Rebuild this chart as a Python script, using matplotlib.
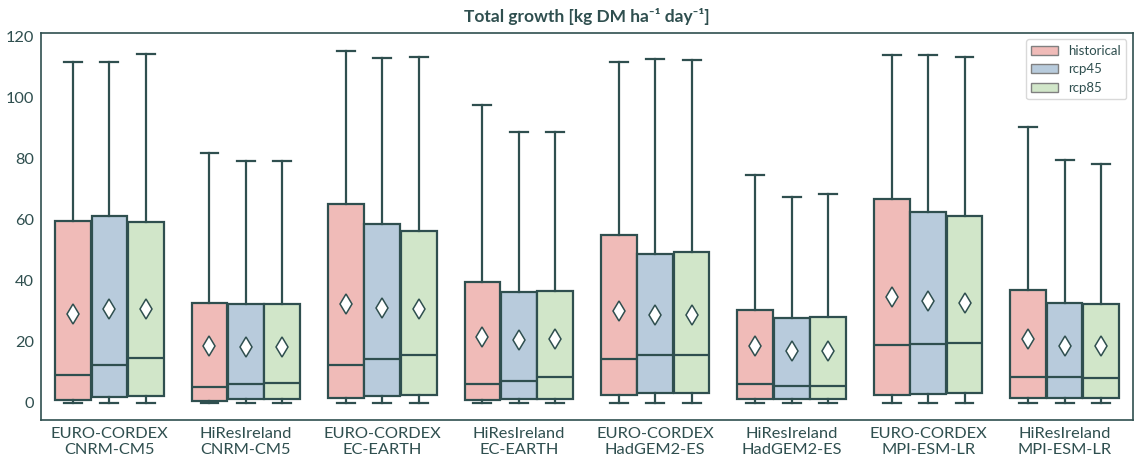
import matplotlib
matplotlib.use("Agg")
import matplotlib.pyplot as plt
from matplotlib.patches import Patch

plt.rcParams['font.family'] = ['Lato', 'DejaVu Sans']

groups = ["EURO-CORDEX\nCNRM-CM5", "HiResIreland\nCNRM-CM5", "EURO-CORDEX\nEC-EARTH",
          "HiResIreland\nEC-EARTH", "EURO-CORDEX\nHadGEM2-ES", "HiResIreland\nHadGEM2-ES",
          "EURO-CORDEX\nMPI-ESM-LR", "HiResIreland\nMPI-ESM-LR"]
scenarios = ["historical", "rcp45", "rcp85"]
colors = ["#f0bbb8", "#b8cbdc", "#d1e6c9"]

# per scenario: lists over groups
whislo = {
    "historical": [0, 0, 0, 0, 0, 0, 0, 0],
    "rcp45":      [0, 0, 0, 0, 0, 0, 0, 0],
    "rcp85":      [0, 0, 0, 0, 0, 0, 0, 0],
}
q1 = {
    "historical": [0.9, 0.5, 1.5, 0.9, 2.5, 1.1, 2.5, 1.4],
    "rcp45":      [1.7, 1.0, 2.2, 1.2, 3.2, 1.1, 2.8, 1.4],
    "rcp85":      [2.0, 1.3, 2.4, 1.2, 3.2, 1.1, 3.2, 1.4],
}
med = {
    "historical": [9.0, 5.0, 12.4, 6.1, 14.2, 6.0, 18.9, 8.3],
    "rcp45":      [12.3, 6.0, 14.2, 7.0, 15.6, 5.3, 19.2, 8.3],
    "rcp85":      [14.7, 6.3, 15.6, 8.3, 15.6, 5.3, 19.5, 8.0],
}
q3 = {
    "historical": [59.5, 32.8, 65.1, 39.5, 55.0, 30.3, 66.8, 36.9],
    "rcp45":      [61.2, 32.3, 58.6, 36.2, 48.7, 27.8, 62.4, 32.6],
    "rcp85":      [59.1, 32.3, 56.3, 36.6, 49.4, 28.0, 61.2, 32.2],
}
whishi = {
    "historical": [111.8, 81.9, 115.4, 97.7, 111.8, 74.7, 113.9, 90.4],
    "rcp45":      [111.8, 79.4, 113.2, 88.9, 112.8, 67.5, 114.1, 79.7],
    "rcp85":      [114.4, 79.4, 113.5, 88.9, 112.5, 68.4, 113.5, 78.3],
}
means = {
    "historical": [28.9, 18.4, 32.2, 21.4, 29.9, 18.5, 34.5, 20.7],
    "rcp45":      [30.6, 18.3, 30.9, 20.4, 28.7, 16.8, 33.2, 18.6],
    "rcp85":      [30.8, 18.2, 30.6, 20.7, 28.7, 16.8, 32.5, 18.6],
}

dark = "#2f4f4f"
fig = plt.figure(figsize=(11.42, 4.70), dpi=100)
ax = fig.add_axes([0.036, 0.106, 0.956, 0.824])

hue_w = 0.8 / len(scenarios)
for j, sc in enumerate(scenarios):
    stats = []
    for i in range(len(groups)):
        stats.append(dict(whislo=whislo[sc][i], q1=q1[sc][i], med=med[sc][i],
                          q3=q3[sc][i], whishi=whishi[sc][i], mean=means[sc][i], fliers=[]))
    pos = [i + (j - 1) * hue_w for i in range(len(groups))]
    ax.bxp(stats, positions=pos, widths=hue_w * 0.98, patch_artist=True,
           showmeans=True, showfliers=False, manage_ticks=False,
           boxprops=dict(facecolor=colors[j], edgecolor=dark, linewidth=1.6),
           whiskerprops=dict(color=dark, linewidth=1.6),
           capprops=dict(color=dark, linewidth=1.6),
           medianprops=dict(color=dark, linewidth=1.6),
           meanprops=dict(marker="d", markerfacecolor="white", markeredgecolor=dark,
                          markersize=10, markeredgewidth=1.1))

ax.set_xlim(-0.5, len(groups) - 0.5)
ax.set_ylim(-5.8, 121.3)
ax.set_xticks(range(len(groups)))
ax.set_xticklabels(groups, fontsize=11.8, color=dark)
ax.set_yticks([0, 20, 40, 60, 80, 100, 120])
ax.tick_params(axis='both', length=0, labelsize=11.8, labelcolor=dark, pad=5)
for s in ax.spines.values():
    s.set_color(dark)
    s.set_linewidth(1.2)
ax.set_title("Total growth [kg DM ha\u207b\u00b9 day\u207b\u00b9]", fontsize=12.5,
             fontweight="bold", color=dark, pad=8)

handles = [Patch(facecolor=c, edgecolor="#808080", label=s) for c, s in zip(colors, scenarios)]
leg = ax.legend(handles=handles, loc="upper right", fontsize=9.5, frameon=True,
                labelcolor=dark)
leg.get_frame().set_edgecolor("#d0d0d0")

fig.savefig("out.png", dpi=100)
